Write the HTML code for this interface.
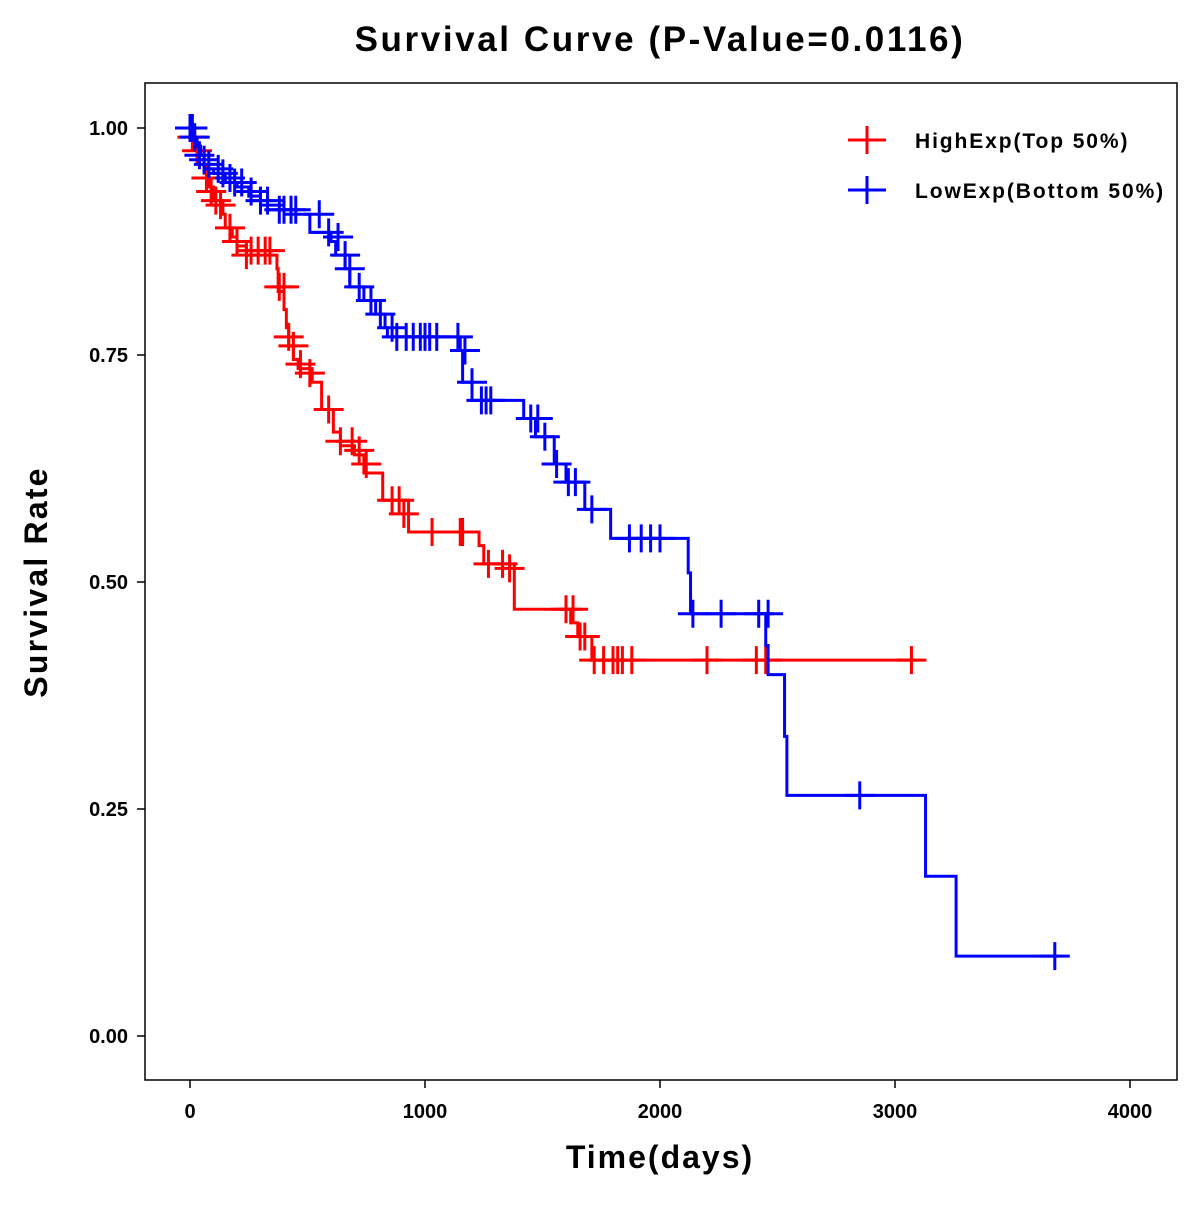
<!DOCTYPE html>
<html><head><meta charset="utf-8"><style>
html,body{margin:0;padding:0;background:#fff}
svg text{font-family:"Liberation Sans",Arial,sans-serif;font-weight:bold}
</style></head><body>
<svg id="chart" width="1200" height="1200" viewBox="0 0 1200 1200" xmlns="http://www.w3.org/2000/svg">
<text x="660" y="51" font-size="35" letter-spacing="2.6" text-anchor="middle">Survival Curve (P-Value=0.0116)</text>
<rect x="145" y="83" width="1032" height="997" fill="none" stroke="#000" stroke-width="1.5"/>
<g id="axes"></g>
<g id="series"></g>
<text x="660" y="1168" font-size="32" letter-spacing="2" text-anchor="middle">Time(days)</text>
<text transform="translate(47,582) rotate(-90)" font-size="32" letter-spacing="2.2" text-anchor="middle">Survival Rate</text>
<g>
<g>
<line x1="848" y1="140" x2="886" y2="140" stroke="#f00" stroke-width="3"/><line x1="867" y1="126" x2="867" y2="154" stroke="#f00" stroke-width="3"/>
<text x="915" y="148" font-size="21" letter-spacing="1.9">HighExp(Top 50%)</text></g>
<g>
<line x1="848" y1="190" x2="886" y2="190" stroke="#00f" stroke-width="3"/><line x1="867" y1="176" x2="867" y2="204" stroke="#00f" stroke-width="3"/>
<text x="915" y="198" font-size="21" letter-spacing="1.9">LowExp(Bottom 50%)</text></g>
</g>
</svg>
<script>
const xTicks=[0,1000,2000,3000,4000];
const yTicks=[0,0.25,0.5,0.75,1.0];
const highSteps=[[0,1],[20,0.98],[40,0.96],[60,0.95],[80,0.935],[100,0.92],[140,0.905],[150,0.89],[180,0.88],[200,0.87],[240,0.86],[370,0.845],[375,0.82],[400,0.80],[410,0.78],[420,0.76],[440,0.745],[460,0.735],[520,0.72],[560,0.69],[610,0.665],[640,0.65],[700,0.64],[740,0.62],[820,0.59],[930,0.555],[1230,0.54],[1250,0.52],[1380,0.47],[1620,0.455],[1650,0.44],[1710,0.414]];
const highEnd=3100;
const highCensor=[[10,0.99],[30,0.975],[70,0.945],[90,0.93],[110,0.92],[130,0.915],[170,0.89],[200,0.875],[240,0.86],[260,0.865],[290,0.865],[320,0.865],[340,0.865],[380,0.825],[400,0.825],[420,0.77],[440,0.76],[470,0.74],[510,0.73],[590,0.69],[640,0.655],[690,0.655],[720,0.645],[750,0.63],[860,0.59],[890,0.59],[910,0.575],[1030,0.555],[1150,0.555],[1160,0.555],[1270,0.52],[1330,0.52],[1360,0.515],[1600,0.47],[1630,0.47],[1660,0.44],[1680,0.44],[1720,0.414],[1760,0.414],[1800,0.414],[1820,0.414],[1840,0.414],[1880,0.414],[2200,0.414],[2410,0.414],[2450,0.414],[3070,0.414]];
const lowSteps=[[0,1],[15,0.99],[30,0.98],[45,0.97],[60,0.96],[80,0.955],[100,0.95],[150,0.94],[200,0.935],[250,0.925],[300,0.915],[400,0.905],[510,0.885],[600,0.875],[620,0.86],[660,0.845],[680,0.825],[740,0.81],[790,0.795],[830,0.78],[840,0.77],[1150,0.755],[1160,0.72],[1200,0.70],[1420,0.68],[1470,0.66],[1550,0.63],[1600,0.61],[1680,0.58],[1790,0.548],[2120,0.51],[2130,0.465],[2450,0.43],[2460,0.398],[2530,0.33],[2540,0.265],[3130,0.176],[3260,0.088]];
const lowEnd=3700;
const lowCensor=[[0,1.0],[10,1.0],[20,0.99],[40,0.97],[60,0.965],[80,0.96],[120,0.955],[140,0.95],[170,0.945],[190,0.94],[220,0.94],[260,0.93],[300,0.92],[330,0.92],[380,0.91],[400,0.91],[430,0.91],[450,0.91],[550,0.905],[590,0.885],[630,0.88],[660,0.86],[680,0.845],[720,0.825],[770,0.81],[810,0.795],[860,0.78],[880,0.77],[920,0.77],[950,0.77],[980,0.77],[1000,0.77],[1020,0.77],[1050,0.77],[1140,0.77],[1170,0.755],[1200,0.72],[1240,0.70],[1260,0.70],[1280,0.70],[1450,0.68],[1480,0.68],[1510,0.66],[1560,0.63],[1610,0.61],[1640,0.61],[1710,0.58],[1870,0.548],[1920,0.548],[1960,0.548],[2000,0.548],[2140,0.465],[2260,0.465],[2420,0.465],[2460,0.465],[2850,0.265],[3680,0.088]];
const NS="http://www.w3.org/2000/svg";
const X=t=>190+t*0.235;
const Y=s=>1036-s*908;
function mk(tag,attrs,parent){const e=document.createElementNS(NS,tag);for(const k in attrs)e.setAttribute(k,attrs[k]);parent.appendChild(e);return e;}
const ax=document.getElementById('axes');
xTicks.forEach(t=>{
 const l=mk('line',{x1:X(t),x2:X(t),y1:1080,y2:1088,stroke:'#000','stroke-width':1.5},ax);
 
 
 const tx=mk('text',{x:X(t),y:1118,'font-size':20,'text-anchor':'middle'},ax);tx.textContent=t;
 
 
});
yTicks.forEach(v=>{
 const l=mk('line',{x1:137,x2:145,y1:Y(v),y2:Y(v),stroke:'#000','stroke-width':1.5},ax);
 
 
 const tx=mk('text',{x:128,y:Y(v)+7,'font-size':20,'text-anchor':'end'},ax);tx.textContent=v.toFixed(2);
 
 
});
const sg=document.getElementById('series');
function drawSeries(steps,end,cens,color,name){
 let d='M'+X(steps[0][0])+','+Y(steps[0][1]);
 for(let i=1;i<steps.length;i++){d+=' H'+X(steps[i][0])+' V'+Y(steps[i][1]);}
 d+=' H'+X(end);
 const p=mk('path',{d:d,fill:'none',stroke:color,'stroke-width':3},sg);
 
 
 cens.forEach(c=>{
  const g=mk('path',{d:'M'+(X(c[0])-15)+','+Y(c[1])+' h30 M'+X(c[0])+','+(Y(c[1])-14)+' v28',stroke:color,'stroke-width':3,fill:'none'},sg);
  
  
 });
}
drawSeries(highSteps,highEnd,highCensor,'#f00','high-exp');
drawSeries(lowSteps,lowEnd,lowCensor,'#00f','low-exp');
</script>
</body></html>
